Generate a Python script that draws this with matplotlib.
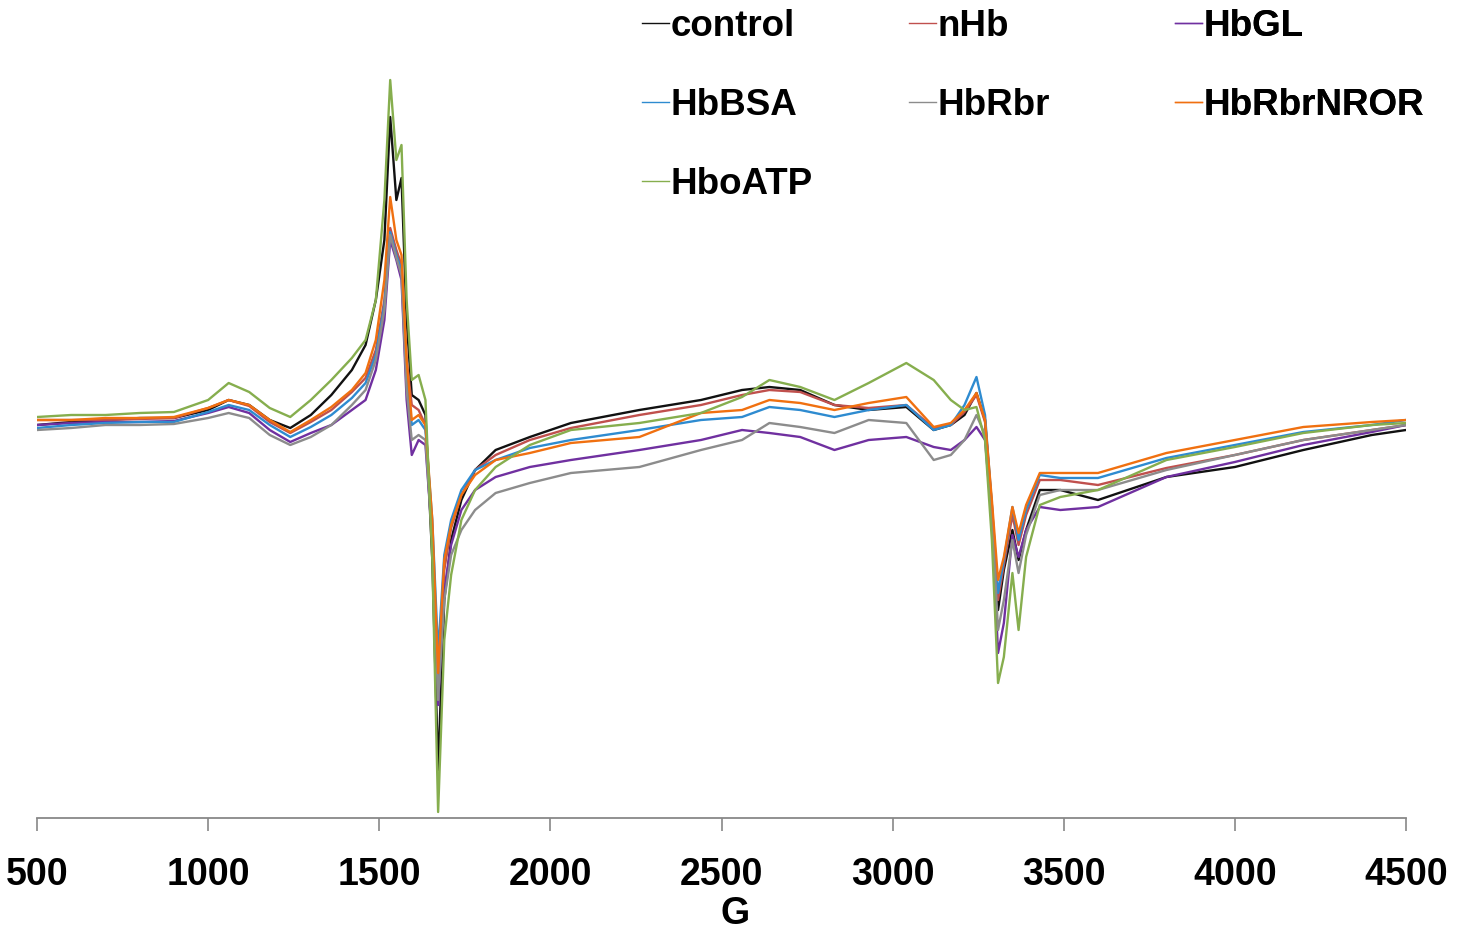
import matplotlib
matplotlib.use("Agg")
import matplotlib.pyplot as plt

plt.rcParams['font.family'] = ['Liberation Sans', 'DejaVu Sans']
plt.rcParams['font.weight'] = 'bold'

# === DATOS (campo en G, intensidad en unidades arbitrarias) ===
campo = [500, 600, 700, 800, 900, 1000, 1060, 1120, 1180, 1240, 1300, 1360, 1420, 1460, 1490,
         1515, 1532, 1550, 1565, 1580, 1595, 1615, 1635, 1655, 1672,
         1690, 1710, 1740, 1780, 1840, 1940, 2060, 2260,
         2440, 2560, 2640, 2730, 2830, 2930, 3040,
         3120, 3170, 3210, 3245, 3270, 3290, 3308, 3325, 3350, 3368, 3390,
         3430, 3490, 3600, 3800, 4000, 4200, 4400, 4500]

control = [-5, -2, 0, 2, 2, 10, 20, 15, 0, -8, 5, 25, 50, 75, 120,
           180, 303, 220, 242, 100, 25, 20, 5, -140, -350,
           -180, -120, -80, -50, -30, -17, -3, 10,
           20, 30, 33, 30, 15, 10, 13,
           -10, -5, 5, 27, 0, -90, -190, -150, -110, -140, -110,
           -70, -70, -80, -57, -47, -30, -15, -10]

nHb = [0, 0, 0, 1, 2, 12, 20, 14, -2, -13, -2, 10, 28, 42, 70,
       120, 192, 170, 155, 60, 15, 10, -5, -110, -270,
       -150, -108, -75, -50, -35, -20, -8, 5,
       15, 25, 30, 28, 15, 12, 15,
       -8, -5, 8, 25, -2, -85, -180, -145, -95, -125, -95,
       -60, -60, -65, -48, -35, -20, -10, -5]

HbGL = [-5, -3, -2, -2, -1, 7, 13, 7, -10, -22, -13, -5, 10, 20, 50,
        100, 180, 160, 140, 20, -35, -20, -25, -120, -285,
        -170, -125, -90, -70, -57, -47, -40, -30,
        -20, -10, -13, -17, -30, -20, -17,
        -27, -30, -20, -7, -20, -100, -233, -203, -115, -137, -110,
        -87, -90, -87, -57, -42, -25, -12, -5]

HbBSA = [-8, -5, -3, -2, -2, 8, 15, 10, -5, -17, -7, 5, 22, 37, 65,
         115, 188, 165, 150, 45, -5, 0, -10, -100, -233,
         -135, -100, -70, -50, -40, -28, -20, -10,
         0, 3, 13, 10, 3, 10, 15,
         -10, -5, 15, 43, 5, -85, -173, -140, -87, -120, -90,
         -55, -58, -58, -38, -25, -12, -5, 0]

HbRbr = [-10, -8, -5, -5, -4, 2, 7, 2, -15, -25, -17, -5, 15, 30, 60,
         110, 185, 162, 145, 30, -20, -15, -20, -120, -280,
         -180, -135, -110, -90, -73, -63, -53, -47,
         -30, -20, -3, -7, -13, 0, -3,
         -40, -35, -20, 5, -15, -95, -210, -180, -120, -153, -115,
         -75, -70, -70, -50, -35, -20, -10, -5]

HbRbrNROR = [0, 0, 2, 2, 3, 12, 20, 15, 0, -12, 0, 13, 30, 47, 80,
             140, 223, 180, 165, 60, 0, 5, -5, -100, -253,
             -140, -105, -75, -55, -40, -33, -23, -17,
             7, 10, 20, 17, 10, 17, 23,
             -7, -3, 10, 27, 0, -80, -160, -137, -87, -113, -85,
             -53, -53, -53, -33, -20, -7, -2, 0]

HboATP = [3, 5, 5, 7, 8, 20, 37, 28, 12, 3, 20, 40, 62, 80, 120,
          220, 340, 260, 275, 120, 40, 45, 20, -140, -392,
          -220, -155, -100, -70, -47, -25, -10, -3,
          7, 23, 40, 33, 20, 37, 57,
          40, 20, 10, 13, -20, -120, -263, -237, -153, -210, -137,
          -85, -77, -70, -40, -27, -13, -5, -3]

series = {
    'control': (control, '#111111'),
    'nHb': (nHb, '#C0504D'),
    'HbGL': (HbGL, '#7030A0'),
    'HbBSA': (HbBSA, '#2E8BD0'),
    'HbRbr': (HbRbr, '#8C8C8C'),
    'HbRbrNROR': (HbRbrNROR, '#F07010'),
    'HboATP': (HboATP, '#86AE4E'),
}

# === FIGURA ===
fig = plt.figure(figsize=(14.66, 9.34), dpi=100)
ax = fig.add_axes([37 / 1466, 1 - 818 / 934, (1406 - 37) / 1466, 818 / 934])

lineas = {}
for nombre, (valores, color) in series.items():
    lineas[nombre], = ax.plot(campo, valores, color=color, lw=1.7, label=nombre)

ax.set_xlim(500, 4500)
ax.set_ylim(-398, 420)
ax.set_xticks(range(500, 4501, 500))
ax.set_yticks([])
for lado in ['top', 'right', 'left']:
    ax.spines[lado].set_visible(False)
ax.spines['bottom'].set_color('#888888')
ax.spines['bottom'].set_linewidth(1.3)
ax.tick_params(axis='x', direction='out', length=9, width=1.2, color='#888888',
               labelsize=27, pad=19)
for t in ax.get_xticklabels():
    t.set_fontweight('bold')
ax.set_xlabel('G', fontsize=27, fontweight='bold', va='baseline')
ax.xaxis.set_label_coords(0.51, -0.129)

# leyenda en 3 columnas (filas como en Excel), una leyenda por columna
columnas = [(['control', 'HbBSA', 'HboATP'], 642),
            (['nHb', 'HbRbr'], 909),
            (['HbGL', 'HbRbrNROR'], 1175)]
for nombres, x0 in columnas:
    leg = ax.legend([lineas[n] for n in nombres], nombres,
                    loc='upper left', bbox_to_anchor=(x0 / 1466, 1 - 9 / 934),
                    bbox_transform=fig.transFigure, ncol=1, frameon=False,
                    handlelength=0.72, handletextpad=0.05,
                    labelspacing=1.2, borderpad=0, borderaxespad=0,
                    prop={'weight': 'bold', 'size': 26.5})
    for linea in leg.get_lines():
        linea.set_linewidth(1.0)
    ax.add_artist(leg)

fig.savefig('out.png', dpi=100)
